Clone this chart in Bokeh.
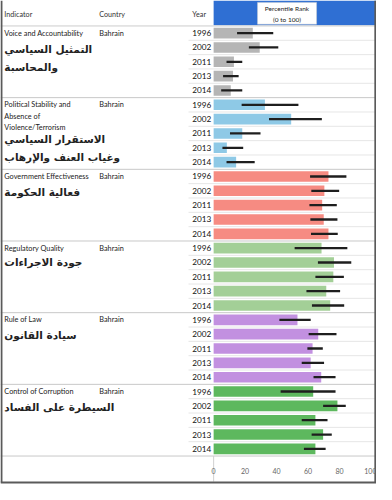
from bokeh.plotting import figure
from bokeh.models import Range1d, LinearAxis, FixedTicker
from bokeh.core.properties import value
from bokeh.embed import file_html
from bokeh.resources import INLINE

# ---------------- data ----------------
years = ["1996", "2002", "2011", "2013", "2014"]
country = "Bahrain"
header_labels = ["Indicator", "Country", "Year"]
title_lines = ["Percentile Rank", "(0 to 100)"]
tick_values = [0, 20, 40, 60, 80, 100]

indicators_en = [
    ["Voice and Accountability"],
    ["Political Stability and", "Absence of", "Violence/Terrorism"],
    ["Government Effectiveness"],
    ["Regulatory Quality"],
    ["Rule of Law"],
    ["Control of Corruption"],
]
indicators_ar = [
    ["التمثيل السياسي", "والمحاسبة"],
    ["الاستقرار السياسي", "وغياب العنف والإرهاب"],
    ["فعالية الحكومة"],
    ["جودة الاجراءات"],
    ["سيادة القانون"],
    ["السيطرة على الفساد"],
]

rank_va = [24.9, 29.3, 12.9, 12.3, 10.9]
low_va = [14.9, 22.4, 8.2, 6.0, 4.8]
high_va = [37.9, 41.1, 18.2, 15.9, 18.2]

rank_ps = [32.6, 49.3, 18.2, 8.4, 14.3]
low_ps = [17.8, 35.2, 10.4, 5.6, 8.2]
high_ps = [53.9, 68.8, 29.8, 18.8, 26.1]

rank_ge = [73.0, 70.4, 69.0, 70.0, 73.0]
low_ge = [61.3, 62.1, 60.9, 61.5, 61.9]
high_ge = [84.4, 79.8, 78.3, 78.7, 78.9]

rank_rq = [68.6, 76.5, 76.1, 71.6, 74.1]
low_rq = [51.5, 66.3, 64.7, 59.0, 62.5]
high_rq = [85.0, 87.5, 82.8, 80.4, 83.0]

rank_rl = [53.3, 66.5, 62.9, 61.7, 68.4]
low_rl = [41.8, 60.4, 59.6, 56.0, 63.5]
high_rl = [61.7, 78.1, 69.4, 70.2, 77.5]

rank_cc = [63.3, 78.7, 64.7, 69.6, 64.7]
low_cc = [42.6, 69.6, 56.0, 62.3, 57.4]
high_cc = [77.5, 84.0, 72.4, 75.1, 71.2]

ranks = [rank_va, rank_ps, rank_ge, rank_rq, rank_rl, rank_cc]
lows = [low_va, low_ps, low_ge, low_rq, low_rl, low_cc]
highs = [high_va, high_ps, high_ge, high_rq, high_rl, high_cc]

# ---------------- styles ----------------
group_colors = ["#b5b5b5", "#8ec9e6", "#f68b82", "#a3cf97", "#c290e0", "#5db85e"]
W, H = 376, 484
SX = W / 392.0
zero_px = 222.2 * SX
unit = (386.2 - 222.2) * SX / 100.0


def xr(ref):
    return (ref * SX - zero_px) / unit


ROW0, ROWH = 33.7, 14.81


def yr(ref):
    return (ref - ROW0) / ROWH


EN_FONT = value("Lato")
AR_FONT = value("DejaVu Sans")

p = figure(width=W, height=H, output_backend="svg", toolbar_location=None,
           x_axis_type=None, y_axis_type=None,
           x_range=Range1d(xr(0), xr(392)), y_range=Range1d(yr(500), yr(0)),
           min_border_left=0, min_border_right=0, min_border_top=0, min_border_bottom=0)
p.outline_line_color = None
p.xgrid.visible = False
p.ygrid.visible = False
p.background_fill_color = "white"
p.border_fill_color = "white"

n_groups = len(ranks)
n_years = len(years)
last_sep = n_groups * n_years - 0.5

# header blue band and white title box
p.quad(left=0, right=xr(392), top=yr(0), bottom=yr(25.5), fill_color="#2f6fd3", line_color=None)
p.quad(left=xr(268), right=xr(329.5), top=yr(2), bottom=yr(24.5), fill_color="white",
       line_color="#d0d0d0", line_width=0.5)
p.text(x=[xr(298.7)] * 2, y=[yr(8.5), yr(19.5)], text=title_lines, text_align="center",
       text_baseline="middle", text_font=EN_FONT, text_font_size="6.5px", text_color="#222222")

# header labels
p.text(x=[xr(4), xr(103), xr(200)], y=[yr(14.7)] * 3, text=header_labels, text_align="left",
       text_baseline="middle", text_font=EN_FONT, text_font_size="7.2px", text_color="#333333")

# separators
p.segment(x0=xr(0), x1=xr(392), y0=-0.5, y1=-0.5, line_color="#cccccc", line_width=1)
for g in range(n_groups):
    for k in range(n_years - 1):
        yy = g * n_years + k + 0.5
        p.segment(x0=xr(196), x1=xr(392), y0=yy, y1=yy, line_color="#e6e6e6", line_width=1)
    yy = g * n_years + n_years - 0.5
    p.segment(x0=xr(0), x1=xr(392), y0=yy, y1=yy, line_color="#c8c8c8", line_width=1)

# vertical line in the axis area
p.segment(x0=0, x1=0, y0=last_sep, y1=yr(497), line_color="#d0d0d0", line_width=1)

ar_offsets = [1.10, 2.39, 1.05, 1.0, 1.07, 1.08]
for g in range(n_groups):
    base = g * n_years
    rows = [base + i for i in range(n_years)]
    p.hbar(y=rows, left=0, right=ranks[g], height=0.74, fill_color=group_colors[g], line_color=None)
    p.segment(x0=lows[g], x1=highs[g], y0=rows, y1=rows, line_color="#1e1e1e", line_width=2.3)
    p.text(x=[xr(200)] * n_years, y=rows, text=years, text_align="left", text_baseline="middle",
           text_font=EN_FONT, text_font_size="8.2px", text_color="#111111")
    en = indicators_en[g]
    p.text(x=[xr(4)] * len(en), y=[base + 0.79 * i for i in range(len(en))], text=en,
           text_align="left", text_baseline="middle", text_font=EN_FONT, text_font_size="7.3px",
           text_color="#222222")
    p.text(x=[xr(103)], y=[base], text=[country], text_align="left", text_baseline="middle",
           text_font=EN_FONT, text_font_size="7.3px", text_color="#222222")
    ar = indicators_ar[g]
    p.text(x=[xr(4)] * len(ar), y=[base + ar_offsets[g] + 1.25 * i for i in range(len(ar))], text=ar,
           text_align="left", text_baseline="middle", text_font=AR_FONT, text_font_size="10.5px",
           text_font_style="bold", text_color="#222222")

# outer border (left, right, bottom)
p.segment(x0=[xr(1), xr(390.8), xr(0)], x1=[xr(1), xr(390.8), xr(392)],
          y0=[yr(0), yr(0), yr(498)], y1=[yr(498), yr(498), yr(498)],
          line_color="#5a5a5a", line_width=2)

ax = LinearAxis(ticker=FixedTicker(ticks=tick_values), fixed_location=last_sep)
ax.axis_line_color = None
ax.major_tick_line_color = None
ax.minor_tick_line_color = None
ax.major_label_standoff = 6
ax.major_label_text_font = "Lato"
ax.major_label_text_font_size = "7px"
ax.major_label_text_color = "#666666"
p.add_layout(ax, "below")

open("out.html", "w").write(file_html(p, INLINE))
